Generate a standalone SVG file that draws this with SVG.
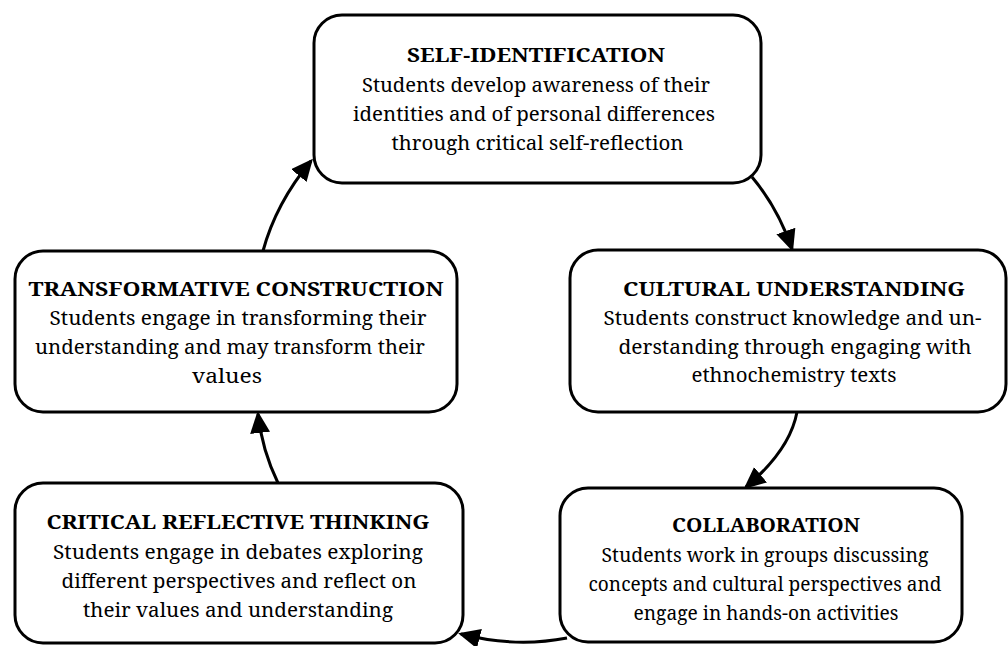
<svg xmlns="http://www.w3.org/2000/svg" width="1008" height="646" viewBox="0 0 1008 646">
<style>
.box{fill:#fff;stroke:#000;stroke-width:3}
.t{font-family:"Noto Serif","Liberation Serif",serif;font-size:20px;fill:#000;text-anchor:middle}
.b{font-weight:bold}
.c{fill:none;stroke:#000;stroke-width:3;marker-end:url(#ah)}
</style>
<defs>
<marker id="ah" markerUnits="userSpaceOnUse" markerWidth="24" markerHeight="22" refX="19" refY="10" orient="auto">
<path d="M0,0 L22,10 L0,20 Z" fill="#000"/>
</marker>
</defs>
<rect width="1008" height="646" fill="#fff"/>
<g id="connectors">
<path class="c" d="M263,251 Q276,203 311,161"/>
<path class="c" d="M752,177 Q778,208 792,249"/>
<path class="c" d="M797,412 Q790,450 746,487"/>
<path class="c" d="M567,638 Q515,648 461,634"/>
<path class="c" d="M278,483 Q262,450 258,414"/>
</g>
<g id="self-identification">
<rect class="box" x="314" y="15" width="447" height="168" rx="28"/>
<text class="t b" x="536" y="62" textLength="258" lengthAdjust="spacingAndGlyphs">SELF-IDENTIFICATION</text>
<text class="t" x="536" y="92" textLength="348" lengthAdjust="spacingAndGlyphs">Students develop awareness of their</text>
<text class="t" x="534" y="121" textLength="362" lengthAdjust="spacingAndGlyphs">identities and of personal differences</text>
<text class="t" x="537.5" y="150" textLength="292" lengthAdjust="spacingAndGlyphs">through critical self-reflection</text>
</g>
<g id="cultural-understanding">
<rect class="box" x="570" y="250" width="436" height="162" rx="28"/>
<text class="t b" x="794" y="296" textLength="342" lengthAdjust="spacingAndGlyphs">CULTURAL UNDERSTANDING</text>
<text class="t" x="792.5" y="325" textLength="378" lengthAdjust="spacingAndGlyphs">Students construct knowledge and un-</text>
<text class="t" x="795" y="354" textLength="353" lengthAdjust="spacingAndGlyphs">derstanding through engaging with</text>
<text class="t" x="794" y="382" textLength="205" lengthAdjust="spacingAndGlyphs">ethnochemistry texts</text>
</g>
<g id="collaboration">
<rect class="box" x="560" y="488" width="402" height="154" rx="28"/>
<text class="t b" x="766" y="532" textLength="188" lengthAdjust="spacingAndGlyphs">COLLABORATION</text>
<text class="t" x="765" y="562" textLength="327" lengthAdjust="spacingAndGlyphs">Students work in groups discussing</text>
<text class="t" x="765" y="591" textLength="353" lengthAdjust="spacingAndGlyphs">concepts and cultural perspectives and</text>
<text class="t" x="766" y="620" textLength="265" lengthAdjust="spacingAndGlyphs">engage in hands-on activities</text>
</g>
<g id="critical-reflective-thinking">
<rect class="box" x="15" y="483" width="448" height="160" rx="28"/>
<text class="t b" x="238" y="529" textLength="383" lengthAdjust="spacingAndGlyphs">CRITICAL REFLECTIVE THINKING</text>
<text class="t" x="238" y="559" textLength="370" lengthAdjust="spacingAndGlyphs">Students engage in debates exploring</text>
<text class="t" x="239" y="588" textLength="355" lengthAdjust="spacingAndGlyphs">different perspectives and reflect on</text>
<text class="t" x="238" y="617" textLength="310" lengthAdjust="spacingAndGlyphs">their values and understanding</text>
</g>
<g id="transformative-construction">
<rect class="box" x="15" y="251" width="442" height="161" rx="28"/>
<text class="t b" x="236" y="296" textLength="415" lengthAdjust="spacingAndGlyphs">TRANSFORMATIVE CONSTRUCTION</text>
<text class="t" x="238" y="325" textLength="377" lengthAdjust="spacingAndGlyphs">Students engage in transforming their</text>
<text class="t" x="230" y="354" textLength="390" lengthAdjust="spacingAndGlyphs">understanding and may transform their</text>
<text class="t" x="227" y="383" textLength="70" lengthAdjust="spacingAndGlyphs">values</text>
</g>
</svg>
